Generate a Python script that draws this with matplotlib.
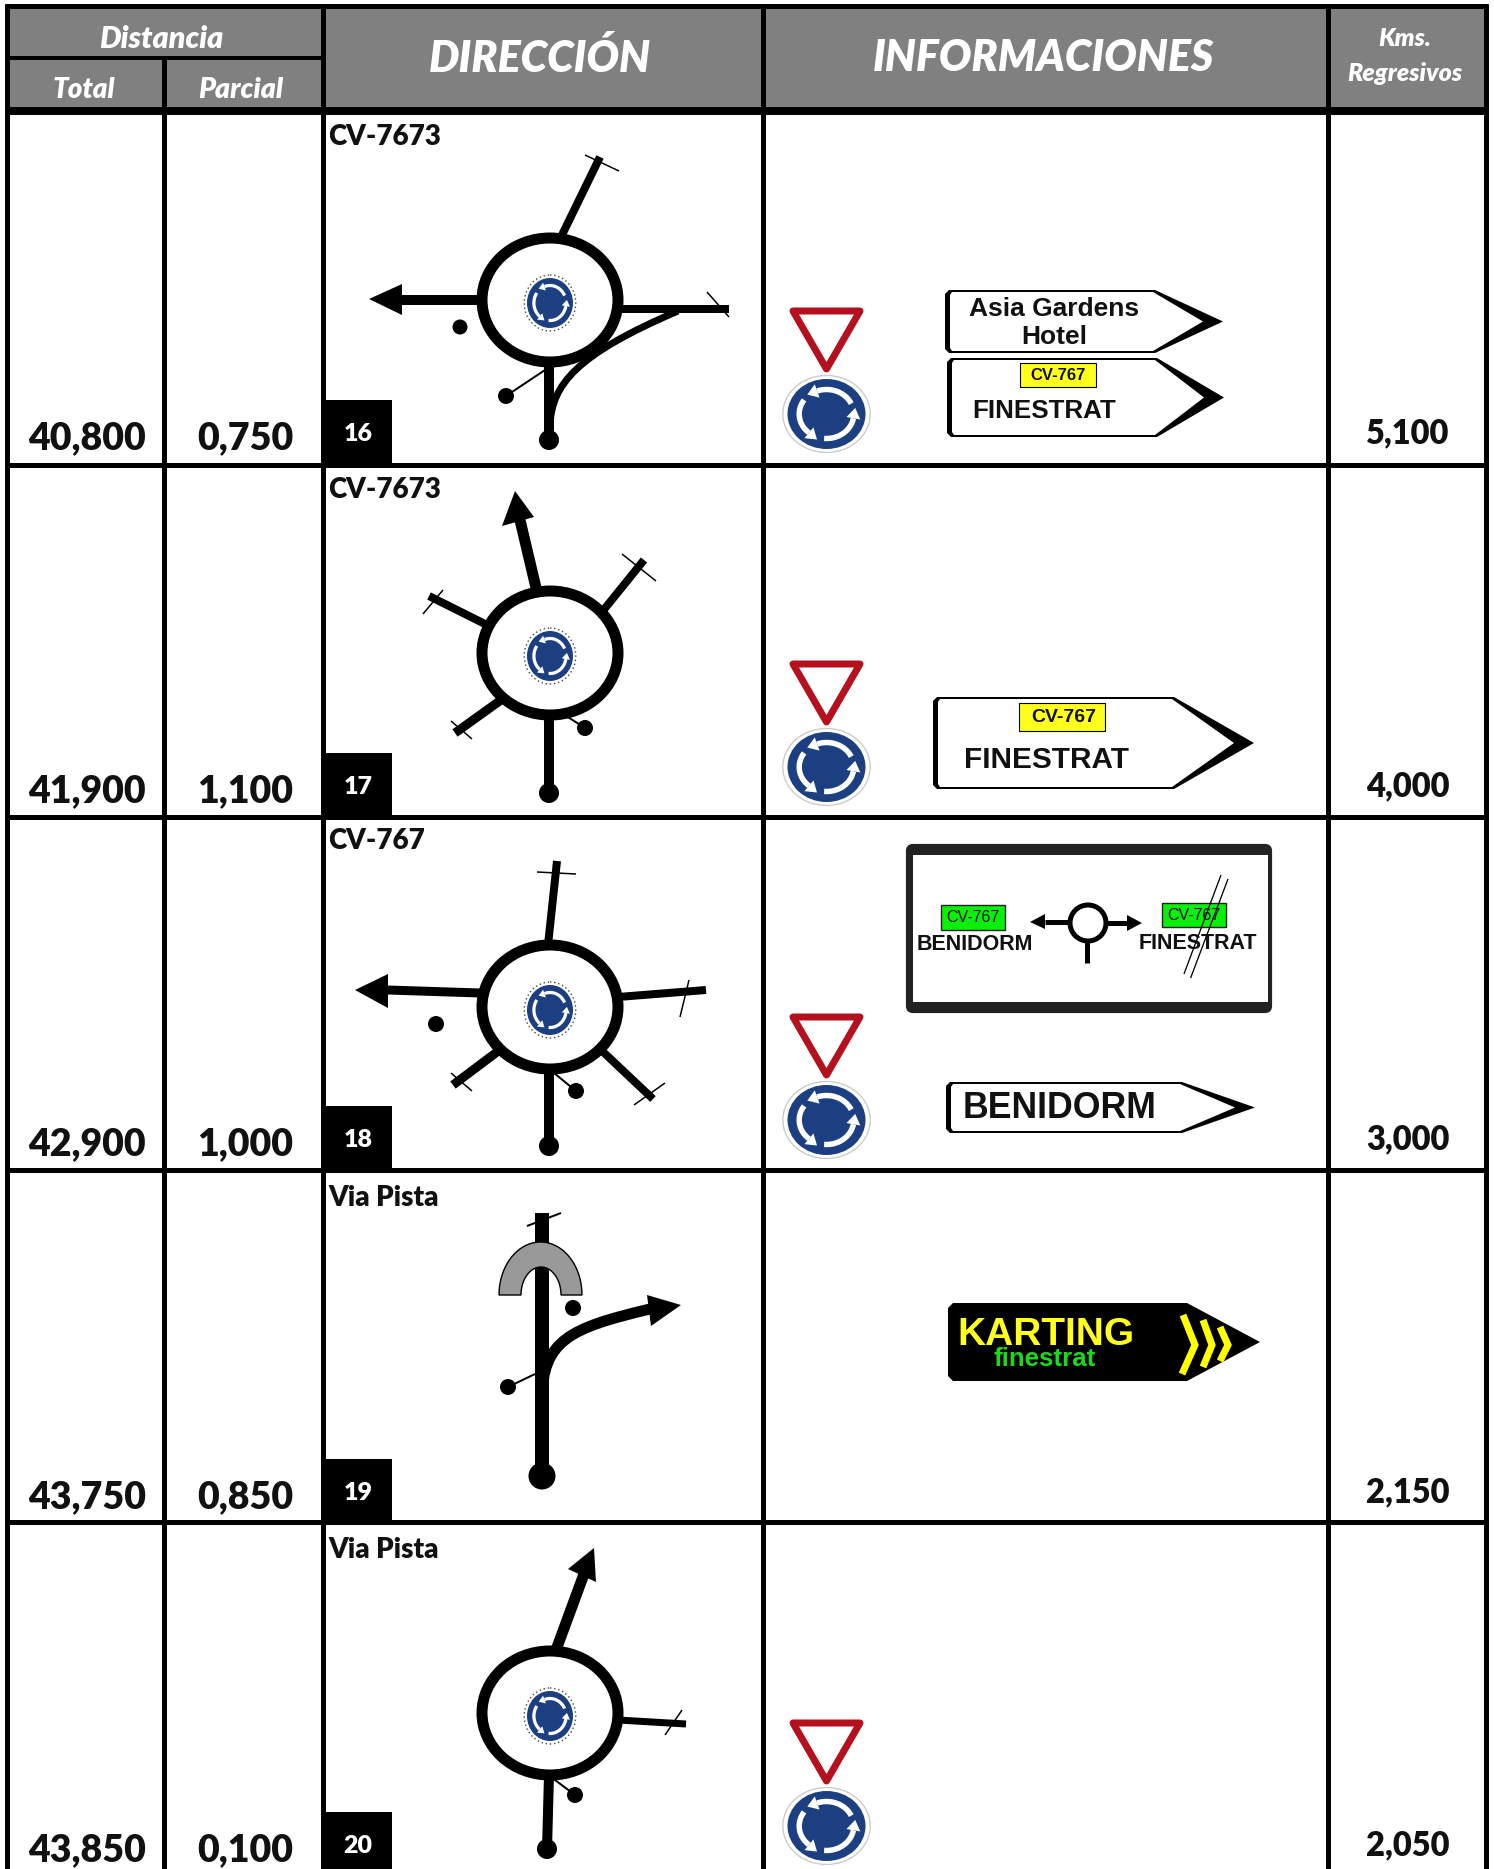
import numpy as np
from matplotlib import pyplot as plt
from matplotlib.patches import Ellipse, Polygon, Rectangle, PathPatch, FancyBboxPatch
from matplotlib.path import Path

# table contents
totals = ['40,800', '41,900', '42,900', '43,750', '43,850']
parciales = ['0,750', '1,100', '1,000', '0,850', '0,100']
regresivos = ['5,100', '4,000', '3,000', '2,150', '2,050']
vias = ['CV-7673', 'CV-7673', 'CV-767', 'Via Pista', 'Via Pista']
numeros = ['16', '17', '18', '19', '20']

# table grid, pixels
col_x = [7, 163.5, 323, 763, 1327.5, 1485.5]
row_y = [111, 464.5, 817, 1169.5, 1522]
via_y = [137, 490, 841, 1198, 1550]
row_h = 353

HEAD = '#808080'
BLUE = '#1b3f80'
RED = '#b5101e'
FONT = ['Lato', 'Open Sans', 'DejaVu Sans']
SIGN = ['Liberation Sans', 'DejaVu Sans']
HEAVY = 800

fig = plt.figure(figsize=(14.94, 18.69), dpi=100)
ax = fig.add_axes([0, 0, 1, 1])
ax.set_xlim(0, 1494)
ax.set_ylim(1869, 0)
ax.axis('off')


def px(w):
    return w * 0.72


def line(pts, w, color='black', z=3):
    pts = np.array(pts)
    ax.plot(pts[:, 0], pts[:, 1], color=color, lw=px(w), solid_capstyle='butt', solid_joinstyle='miter', zorder=z)


def dot(x, y, r, z=4):
    ax.add_patch(Ellipse((x, y), 2 * r, 2 * r, fc='black', ec='none', zorder=z))


def poly(pts, fc='black', z=4, **kw):
    ax.add_patch(Polygon(pts, closed=True, fc=fc, ec=kw.pop('ec', 'none'), zorder=z, **kw))


def curve(pts, w):
    codes = [Path.MOVETO, Path.CURVE4, Path.CURVE4, Path.CURVE4]
    ax.add_patch(PathPatch(Path(pts, codes), fc='none', ec='black', lw=px(w), capstyle='butt', zorder=3))


def glorieta_sign(cx, cy, w, h, small=False):
    # round blue sign with three white arrows
    if small:
        ax.add_patch(Ellipse((cx, cy), w * 1.12, h * 1.12, fc='white', ec='#444444', lw=1, ls=(0, (1, 2)), zorder=5))
    else:
        ax.add_patch(Ellipse((cx, cy), w * 1.12, h * 1.1, fc='white', ec='#cccccc', lw=1, zorder=5))
    ax.add_patch(Ellipse((cx, cy), w, h, fc=BLUE, ec='none', zorder=6))
    rx = w * 0.35
    ry = h * 0.35
    for a0 in [25, 145, 265]:
        t = np.radians(np.linspace(a0, a0 + 85, 20))
        ax.plot(cx + rx * np.cos(t), cy - ry * np.sin(t), color='white', lw=px(w * 0.07), solid_capstyle='butt', zorder=7)
        te = t[-1]
        ex = cx + rx * np.cos(te)
        ey = cy - ry * np.sin(te)
        nx, ny = np.cos(te), -np.sin(te)
        tx, ty = -np.sin(te), -np.cos(te)
        s = w * 0.09
        poly([(ex + nx * s, ey + ny * s), (ex - nx * s, ey - ny * s), (ex + tx * s * 1.5, ey + ty * s * 1.5)], fc='white', z=7)


def glorieta(cy):
    # main roundabout of a tulip, cy = centre height
    ax.add_patch(Ellipse((550, cy), 136, 124, fc='white', ec='black', lw=px(11), zorder=4))
    glorieta_sign(550, cy + 3, 46, 50, small=True)


def ceda(cy):
    # yield triangle over the round sign, cy = centre of the round sign
    ax.add_patch(Polygon([(793, cy - 103), (860, cy - 103), (826.5, cy - 45)], closed=True, fc='white', ec=RED, lw=px(7), joinstyle='round', zorder=3))
    glorieta_sign(826.5, cy, 78, 70)


def flecha_sign(x0, x1, y0, y1, xs):
    # direction plate, black outside with white inside pulled back from the tip
    ym = (y0 + y1) / 2
    poly([(x0 + 4, y0), (xs, y0), (x1, ym), (xs, y1), (x0 + 4, y1), (x0, y1 - 4), (x0, y0 + 4)], z=2)
    poly([(x0 + 7, y0 + 2), (xs - 2, y0 + 2), (x1 - 20, ym), (xs - 2, y1 - 2), (x0 + 7, y1 - 2), (x0 + 5, y1 - 5), (x0 + 5, y0 + 5)], fc='white', z=2)


# header
ax.add_patch(Rectangle((7, 6), 1478, 103, fc=HEAD, ec='none', zorder=1))
ax.text(161, 39, 'Distancia', family=FONT, weight=HEAVY, style='italic', size=22, color='white', ha='center', va='center')
ax.text(84, 90, 'Total', family=FONT, weight=HEAVY, style='italic', size=20, color='white', ha='center', va='center')
ax.text(241, 90, 'Parcial', family=FONT, weight=HEAVY, style='italic', size=20.5, color='white', ha='center', va='center')
ax.text(540, 58, 'DIRECCIÓN', family=FONT, weight=HEAVY, style='italic', size=31, color='white', ha='center', va='center')
ax.text(1043, 58, 'INFORMACIONES', family=FONT, weight=HEAVY, style='italic', size=31, color='white', ha='center', va='center')
ax.text(1405, 38, 'Kms.', family=FONT, weight=HEAVY, style='italic', size=18, color='white', ha='center', va='center')
ax.text(1405, 73, 'Regresivos', family=FONT, weight=HEAVY, style='italic', size=18, color='white', ha='center', va='center')

# grid
for x in col_x:
    if x == col_x[1]:
        line([(x, 57), (x, 1869)], 5, z=8)
    else:
        line([(x, 4), (x, 1869)], 5, z=8)
line([(4.5, 5.5), (1488, 5.5)], 5, z=8)
line([(5, 57.5), (323, 57.5)], 4, z=8)
line([(4.5, 111), (1488, 111)], 8, z=8)
for y in row_y[1:]:
    line([(4.5, y), (1488, y)], 5, z=8)

# cell text
for i in range(5):
    base = row_y[0] + 338 + row_h * i
    ax.text(87, base, totals[i], family=FONT, weight=HEAVY, size=27, ha='center', va='baseline', color='#111111')
    ax.text(245, base, parciales[i], family=FONT, weight=HEAVY, size=27, ha='center', va='baseline', color='#111111')
    ax.text(1408, base - 6, regresivos[i], family=FONT, weight=HEAVY, size=23.5, ha='center', va='baseline', color='#111111')
    ax.text(328, via_y[i], vias[i], family=FONT, weight=HEAVY, size=20, ha='left', va='center', color='#111111')
    ax.add_patch(Rectangle((323, 400 + row_h * i), 69, 63, fc='black', ec='none', zorder=5))
    ax.text(358, 434 + row_h * i, numeros[i], family=FONT, weight=HEAVY, size=18, color='white', ha='center', va='center', zorder=6)

# tulip 16
glorieta(300)
line([(562, 235), (600, 157)], 8)
line([(585, 155), (619, 171)], 1.5)
line([(480, 300), (400, 300)], 10)
poly([(369, 299), (402, 284), (402, 315)])
dot(460, 327, 7.5)
line([(620, 309), (729, 309)], 8)
line([(707, 292), (729, 317)], 1.5)
curve([(550, 425), (552, 385), (575, 355), (678, 311)], 7)
line([(549, 365), (549, 440)], 10)
dot(549, 440, 10)
line([(506, 396), (545, 370)], 2)
dot(506, 396, 8)

# tulip 17
glorieta(653)
line([(537, 592), (520, 520)], 11)
poly([(515, 491), (502, 526), (534, 517)])
line([(602, 612), (644, 560)], 8)
line([(622, 554), (656, 581)], 1.5)
line([(485, 624), (429, 596)], 8)
line([(423, 614), (443, 590)], 1.5)
line([(501, 700), (455, 733)], 9)
line([(451, 721), (472, 739)], 1.5)
line([(549, 718), (549, 793)], 10)
dot(549, 793, 10)
line([(560, 712), (585, 728)], 2)
dot(585, 728, 8)

# tulip 18
glorieta(1007)
line([(480, 993), (388, 990)], 9)
poly([(355, 990), (388, 974), (388, 1008)])
line([(548, 945), (557, 861)], 8)
line([(537, 872), (576, 874)], 1.5)
line([(618, 997), (706, 990)], 8)
line([(689, 980), (680, 1017)], 1.5)
line([(501, 1049), (453, 1085)], 9)
line([(451, 1073), (472, 1091)], 1.5)
line([(600, 1049), (653, 1099)], 8)
line([(634, 1105), (665, 1083)], 1.5)
dot(436, 1024, 8)
line([(554, 1073), (576, 1091)], 2)
dot(576, 1091, 8)
line([(549, 1070), (549, 1146)], 10)
dot(549, 1146, 10)

# tulip 19
line([(542, 1213), (542, 1476)], 14)
dot(542, 1476, 13.5)
line([(527, 1226), (561, 1213)], 2)
t = np.linspace(np.pi, 0, 40)
outer = np.column_stack([540.5 + 41.5 * np.cos(t), 1295 - 53 * np.sin(t)])
inner = np.column_stack([541 + 20 * np.cos(t[::-1]), 1295 - 28 * np.sin(t[::-1])])
poly(np.vstack([outer, inner]), fc='#999999', ec='black', lw=1, z=5)
dot(573, 1308, 8)
curve([(542, 1400), (542, 1340), (570, 1328), (650, 1309)], 11)
poly([(681, 1305), (647, 1295), (651, 1326)])
line([(535, 1374), (508, 1387)], 2)
dot(508, 1387, 8)

# tulip 20
glorieta(1713)
line([(556, 1650), (584, 1574)], 11)
poly([(594, 1548), (568, 1569), (596, 1582)])
line([(618, 1720), (686, 1724)], 7)
line([(682, 1710), (665, 1735)], 1.5)
line([(551, 1777), (575, 1795)], 2)
dot(575, 1795, 8)
line([(549, 1775), (547, 1849)], 10)
dot(547, 1849, 10)

# informaciones, column of signs
for cy in [414, 767, 1120, 1826]:
    ceda(cy)

flecha_sign(945, 1223, 290, 353, 1155)
ax.text(1054, 309, 'Asia Gardens', family=SIGN, weight='bold', size=19, ha='center', va='center', color='#111111', zorder=5)
ax.text(1054, 337, 'Hotel', family=SIGN, weight='bold', size=19, ha='center', va='center', color='#111111', zorder=5)
flecha_sign(947, 1224, 358, 437, 1157)
ax.add_patch(Rectangle((1020, 363), 76, 24, fc='#ffff1e', ec='black', lw=0.8, zorder=4))
ax.text(1058, 375, 'CV-767', family=SIGN, weight='bold', size=12, ha='center', va='center', color='#111111', zorder=5)
ax.text(1044, 411, 'FINESTRAT', family=SIGN, weight='bold', size=18.7, ha='center', va='center', color='#111111', zorder=5)

flecha_sign(933, 1254, 697, 789, 1174)
ax.add_patch(Rectangle((1019, 703), 86, 28, fc='#ffff1e', ec='black', lw=0.8, zorder=4))
ax.text(1064, 717, 'CV-767', family=SIGN, weight='bold', size=14, ha='center', va='center', color='#111111', zorder=5)
ax.text(1047, 760, 'FINESTRAT', family=SIGN, weight='bold', size=21.4, ha='center', va='center', color='#111111', zorder=5)

# panel of row 18
ax.add_patch(FancyBboxPatch((908, 846), 362, 165, boxstyle='round,pad=0,rounding_size=5', fc='#222222', ec='#222222', lw=3, zorder=2))
ax.add_patch(Rectangle((913, 855), 355, 147, fc='white', ec='none', zorder=2))
ax.add_patch(Rectangle((941, 905), 64, 25, fc='#0bf00b', ec='#222222', lw=1, zorder=4))
ax.text(973, 917, 'CV-767', family=SIGN, size=11.5, ha='center', va='center', color='#111111', zorder=5)
ax.text(975, 944, 'BENIDORM', family=SIGN, weight='bold', size=15.5, ha='center', va='center', color='#111111', zorder=5)
ax.add_patch(Rectangle((1162, 903), 64, 24, fc='#0bf00b', ec='#222222', lw=1, zorder=4))
ax.text(1194, 915, 'CV-767', family=SIGN, size=11.5, ha='center', va='center', color='#111111', zorder=5)
ax.text(1198, 943, 'FINESTRAT', family=SIGN, weight='bold', size=15.5, ha='center', va='center', color='#111111', zorder=5)
ax.add_patch(Ellipse((1088, 923), 36, 36, fc='white', ec='black', lw=px(5), zorder=4))
line([(1068, 922), (1045, 922)], 5)
poly([(1030, 922), (1045, 914), (1045, 929)])
line([(1107, 923), (1127, 923)], 5)
poly([(1142, 923), (1127, 915), (1127, 931)])
line([(1087, 942), (1087, 963)], 5)
line([(1221, 875), (1184, 974)], 1.3, z=6)
line([(1228, 879), (1190.6, 978)], 1.3, z=6)

flecha_sign(946, 1255, 1082, 1133, 1182)
ax.text(1060, 1108, 'BENIDORM', family=SIGN, weight='bold', size=25.7, ha='center', va='center', color='#111111', zorder=5)

# karting plate
poly([(953, 1303), (1187, 1303), (1260, 1342), (1187, 1381), (953, 1381), (948, 1376), (948, 1308)], z=2)
ax.text(1046, 1345, 'KARTING', family=SIGN, weight='bold', size=28, ha='center', va='baseline', color='#ffff1a', zorder=5)
ax.text(1045, 1366, 'finestrat', family=SIGN, weight='bold', size=18.6, ha='center', va='baseline', color='#1adb1a', zorder=5)
line([(1183, 1315), (1195, 1345), (1182, 1374)], 7, color='#ffff00', z=5)
line([(1203, 1320), (1212, 1345), (1203, 1367)], 7, color='#ffff00', z=5)
line([(1220, 1327), (1228, 1345), (1220, 1361)], 7, color='#ffff00', z=5)

plt.savefig('out.png', dpi=100, facecolor='white')
